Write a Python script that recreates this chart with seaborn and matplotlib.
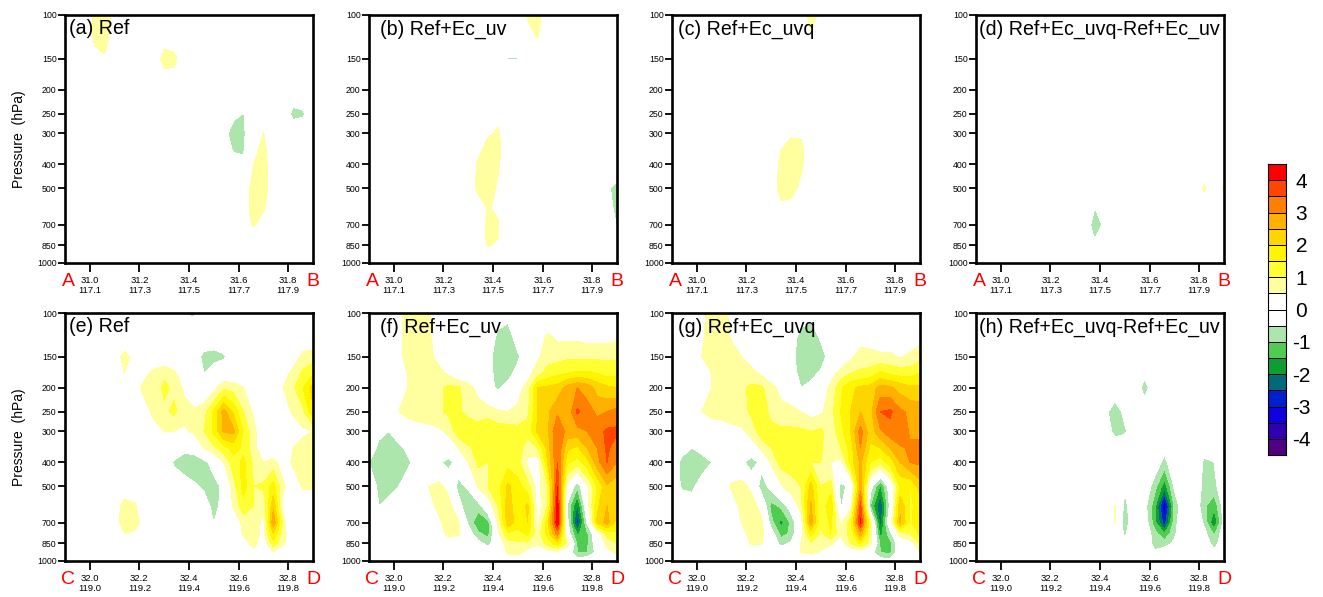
import numpy as np
import seaborn as sns
import matplotlib
matplotlib.use("Agg")
import matplotlib.pyplot as plt
from matplotlib.colors import ListedColormap
from matplotlib.ticker import NullLocator

# cross sections of the increment, rows = pressure levels, columns = points along the section
PRESSURE = [100, 125, 150, 175, 200, 250, 300, 350, 400, 500, 600, 700, 775, 850, 925, 1000]
YTICKS = [100, 150, 200, 250, 300, 400, 500, 700, 850, 1000]

FRAC = [i * 0.04 for i in range(26)]
TICK_OFFSET = [0.1, 0.3, 0.5, 0.7, 0.9]
LABELS_AB = ["31.0\n117.1", "31.2\n117.3", "31.4\n117.5", "31.6\n117.7", "31.8\n117.9"]
LABELS_CD = ["32.0\n119.0", "32.2\n119.2", "32.4\n119.4", "32.6\n119.6", "32.8\n119.8"]

TITLES_TOP = ["(a) Ref", "(b) Ref+Ec_uv", "(c) Ref+Ec_uvq", "(d) Ref+Ec_uvq-Ref+Ec_uv"]
TITLES_BOT = ["(e) Ref", "(f) Ref+Ec_uv", "(g) Ref+Ec_uvq", "(h) Ref+Ec_uvq-Ref+Ec_uv"]

LEVELS = [-4, -3.5, -3, -2.5, -2, -1.5, -1, -0.5, 0, 0.5, 1, 1.5, 2, 2.5, 3, 3.5, 4]
COLORS = ["#500080", "#3000B0", "#1000E0", "#0020D0", "#006A78", "#0A9F30", "#50CC50", "#ADE6AD", "#FFFFFF",
          "#FFFFFF", "#FFFFA0", "#FFFF33", "#FFF500", "#FFD500", "#FFB000", "#FF8000", "#FF4500", "#FF0000"]
CBAR_VALUES = [4.25, 3.75, 3.25, 2.75, 2.25, 1.75, 1.25, 0.75, 0.25, -0.25, -0.75, -1.25, -1.75, -2.25, -2.75, -3.25, -3.75, -4.25]
CBAR_LABELS = ["4", "3", "2", "1", "0", "-1", "-2", "-3", "-4"]

panel_a = [
    [0,0,0,.7,.8, .3,0,0,0,0, 0,0,0,0,0, 0,0,0,0,0, 0,0,0,0,0, 0],
    [0,0,0,.6,.8, 0,0,0,0,0, .2,.1,0,0,0, 0,0,0,0,0, 0,0,0,0,0, 0],
    [0,0,0,.3,.4, 0,0,0,0,0, .8,.7,0,0,0, 0,0,0,0,0, 0,0,0,0,0, 0],
    [0,0,0,0,0, 0,0,0,0,0, .3,.3,0,0,0, 0,0,0,0,0, 0,0,0,0,0, 0],
    [0,0,0,0,0, 0,0,0,0,0, 0,0,0,0,0, 0,0,0,0,0, 0,0,0,0,0, 0],
    [0,0,0,0,0, 0,0,0,0,0, 0,0,0,0,0, 0,0,-.3,-.52,0, 0,0,0,-.7,-.6, 0],
    [0,0,0,0,0, 0,0,0,0,0, 0,0,0,0,0, 0,-.2,-.9,-.6,0, .52,0,0,0,0, 0],
    [0,0,0,0,0, 0,0,0,0,0, 0,0,0,0,0, 0,0,-.6,-.55,.3, .7,0,0,0,0, 0],
    [0,0,0,0,0, 0,0,0,0,0, 0,0,0,0,0, 0,0,0,-.4,.5, .8,0,0,0,0, 0],
    [0,0,0,0,0, 0,0,0,0,0, 0,0,0,0,0, 0,0,0,0,.8, .9,0,0,0,0, 0],
    [0,0,0,0,0, 0,0,0,0,0, 0,0,0,0,0, 0,0,0,0,.9, .6,0,0,0,0, 0],
    [0,0,0,0,0, 0,0,0,0,0, 0,0,0,0,0, 0,0,0,.1,.6, .1,0,0,0,0, 0],
    [0,0,0,0,0, 0,0,0,0,0, 0,0,0,0,0, 0,0,0,0,0, 0,0,0,0,0, 0],
    [0,0,0,0,0, 0,0,0,0,0, 0,0,0,0,0, 0,0,0,0,0, 0,0,0,0,0, 0],
    [0,0,0,0,0, 0,0,0,0,0, 0,0,0,0,0, 0,0,0,0,0, 0,0,0,0,0, 0],
    [0,0,0,0,0, 0,0,0,0,0, 0,0,0,0,0, 0,0,0,0,0, 0,0,0,0,0, 0],
]

panel_b = [
    [0,0,0,0,0, 0,0,0,0,0, 0,0,0,0,0, 0,.6,.8,0,0, 0,0,0,0,0, 0],
    [0,0,0,0,0, 0,0,0,0,0, 0,0,0,0,0, 0,.1,.5,0,0, 0,0,0,0,0, 0],
    [0,0,0,0,0, 0,0,0,0,0, 0,0,0,0,-.52, -.52,0,0,0,0, 0,0,0,0,0, 0],
    [0,0,0,0,0, 0,0,0,0,0, 0,0,0,0,0, 0,0,0,0,0, 0,0,0,0,0, 0],
    [0,0,0,0,0, 0,0,0,0,0, 0,0,0,0,0, 0,0,0,0,0, 0,0,0,0,0, 0],
    [0,0,0,0,0, 0,0,0,0,0, 0,0,0,.3,0, 0,0,0,0,0, 0,0,0,0,0, 0],
    [0,0,0,0,0, 0,0,0,0,0, 0,0,.4,.6,0, 0,0,0,0,0, 0,0,0,0,0, 0],
    [0,0,0,0,0, 0,0,0,0,0, 0,.3,.8,.7,0, 0,0,0,0,0, 0,0,0,0,0, 0],
    [0,0,0,0,0, 0,0,0,0,0, 0,.6,.7,.6,0, 0,0,0,0,0, 0,0,0,0,0, 0],
    [0,0,0,0,0, 0,0,0,0,0, 0,.7,.8,.4,0, 0,0,0,0,0, 0,0,0,0,-.4, -.7],
    [0,0,0,0,0, 0,0,0,0,0, 0,0,.55,.4,0, 0,0,0,0,0, 0,0,0,0,-.2, -.7],
    [0,0,0,0,0, 0,0,0,0,0, 0,0,.7,.55,0, 0,0,0,0,0, 0,0,0,0,0, -.55],
    [0,0,0,0,0, 0,0,0,0,0, 0,0,.7,.55,0, 0,0,0,0,0, 0,0,0,0,0, 0],
    [0,0,0,0,0, 0,0,0,0,0, 0,0,.55,.4,0, 0,0,0,0,0, 0,0,0,0,0, 0],
    [0,0,0,0,0, 0,0,0,0,0, 0,0,0,0,0, 0,0,0,0,0, 0,0,0,0,0, 0],
    [0,0,0,0,0, 0,0,0,0,0, 0,0,0,0,0, 0,0,0,0,0, 0,0,0,0,0, 0],
]

panel_c = [
    [0,0,0,0,0, 0,0,0,0,0, 0,0,0,0,.8, .3,0,0,0,0, 0,0,0,0,0, 0],
    [0,0,0,0,0, 0,0,0,0,0, 0,0,0,0,.4, 0,0,0,0,0, 0,0,0,0,0, 0],
    [0,0,0,0,0, 0,0,0,0,0, 0,0,0,0,0, 0,0,0,0,0, 0,0,0,0,0, 0],
    [0,0,0,0,0, 0,0,0,0,0, 0,0,0,0,0, 0,0,0,0,0, 0,0,0,0,0, 0],
    [0,0,0,0,0, 0,0,0,0,0, 0,0,0,0,0, 0,0,0,0,0, 0,0,0,0,0, 0],
    [0,0,0,0,0, 0,0,0,0,0, 0,0,0,0,0, 0,0,0,0,0, 0,0,0,0,0, 0],
    [0,0,0,0,0, 0,0,0,0,0, 0,0,.4,.4,0, 0,0,0,0,0, 0,0,0,0,0, 0],
    [0,0,0,0,0, 0,0,0,0,0, 0,.5,.8,.7,0, 0,0,0,0,0, 0,0,0,0,0, 0],
    [0,0,0,0,0, 0,0,0,0,0, 0,.7,.8,.65,0, 0,0,0,0,0, 0,0,0,0,0, 0],
    [0,0,0,0,0, 0,0,0,0,0, 0,.8,.8,.3,0, 0,0,0,0,0, 0,0,0,0,0, 0],
    [0,0,0,0,0, 0,0,0,0,0, 0,.3,.2,0,0, 0,0,0,0,0, 0,0,0,0,0, 0],
    [0,0,0,0,0, 0,0,0,0,0, 0,0,0,0,0, 0,0,0,0,0, 0,0,0,0,0, 0],
    [0,0,0,0,0, 0,0,0,0,0, 0,0,0,0,0, 0,0,0,0,0, 0,0,0,0,0, 0],
    [0,0,0,0,0, 0,0,0,0,0, 0,0,0,0,0, 0,0,0,0,0, 0,0,0,0,0, 0],
    [0,0,0,0,0, 0,0,0,0,0, 0,0,0,0,0, 0,0,0,0,0, 0,0,0,0,0, 0],
    [0,0,0,0,0, 0,0,0,0,0, 0,0,0,0,0, 0,0,0,0,0, 0,0,0,0,0, 0],
]

panel_d = [
    [0,0,0,0,0, 0,0,0,0,0, 0,0,0,0,0, 0,0,0,0,0, 0,0,0,0,0, 0],
    [0,0,0,0,0, 0,0,0,0,0, 0,0,0,0,0, 0,0,0,0,0, 0,0,0,0,0, 0],
    [0,0,0,0,0, 0,0,0,0,0, 0,0,0,0,0, 0,0,0,0,0, 0,0,0,0,0, 0],
    [0,0,0,0,0, 0,0,0,0,0, 0,0,0,0,0, 0,0,0,0,0, 0,0,0,0,0, 0],
    [0,0,0,0,0, 0,0,0,0,0, 0,0,0,0,0, 0,0,0,0,0, 0,0,0,0,0, 0],
    [0,0,0,0,0, 0,0,0,0,0, 0,0,0,0,0, 0,0,0,0,0, 0,0,0,0,0, 0],
    [0,0,0,0,0, 0,0,0,0,0, 0,0,0,0,0, 0,0,0,0,0, 0,0,0,0,0, 0],
    [0,0,0,0,0, 0,0,0,0,0, 0,0,0,0,0, 0,0,0,0,0, 0,0,0,0,0, 0],
    [0,0,0,0,0, 0,0,0,0,0, 0,0,0,0,0, 0,0,0,0,0, 0,0,0,0,0, 0],
    [0,0,0,0,0, 0,0,0,0,0, 0,0,0,0,0, 0,0,0,0,0, 0,0,0,.6,.1, .6],
    [0,0,0,0,0, 0,0,0,0,0, 0,0,-.5,0,0, 0,0,0,0,0, 0,0,0,0,0, 0],
    [0,0,0,0,0, 0,0,0,0,0, 0,0,-.9,-.3,0, 0,0,0,0,0, 0,0,0,0,0, 0],
    [0,0,0,0,0, 0,0,0,0,0, 0,0,-.6,0,0, 0,0,0,0,0, 0,0,0,0,0, 0],
    [0,0,0,0,0, 0,0,0,0,0, 0,0,-.3,0,0, 0,0,0,0,0, 0,0,0,0,0, 0],
    [0,0,0,0,0, 0,0,0,0,0, 0,0,0,0,0, 0,0,0,0,0, 0,0,0,0,0, 0],
    [0,0,0,0,0, 0,0,0,0,0, 0,0,0,0,0, 0,0,0,0,0, 0,0,0,0,0, 0],
]

panel_e = [
    [0,0,0,0,0, 0,0,0,0,0, 0,-.2,-.5,-.6,0, 0,0,0,0,0, 0,0,0,0,0, 0],
    [0,0,0,0,0, 0,0,0,0,0, 0,0,-.1,0,0, 0,0,0,0,0, 0,0,0,0,0, 0],
    [0,0,0,0,0, .2,.7,.3,0,0, 0,0,0,-.1,-.7, -.8,-.6,0,0,0, 0,0,0,.1,.7, .8],
    [0,0,0,0,0, 0,.5,.3,.3,.7, .9,.6,.1,0,-.5, 0,0,0,0,0, 0,0,.2,.7,1.1, 1.4],
    [0,0,0,0,0, 0,.4,.2,.7,.7, 1.1,.9,.4,0,0, .3,.9,.8,.5,.1, 0,.1,.5,.9,1.5, 2.2],
    [0,0,0,0,0, 0,0,0,.2,.7, .9,1.1,.7,.6,.8, 1.6,2.7,1.9,1.0,.4, 0,-.5,.2,.6,.9, 1.9],
    [0,0,0,0,0, 0,0,0,0,.2, .5,.5,.4,.6,1.0, 1.6,2.6,2.6,1.4,.7, 0,0,0,.1,.4, .5],
    [0,0,0,0,0, 0,0,0,0,0, 0,0,-.2,-.2,.5, .9,1.3,1.7,1.4,.7, .1,0,0,.5,.7, .7],
    [0,0,0,0,0, 0,0,0,0,0, 0,-.6,-1.0,-.9,-.7, -.2,.5,1.3,1.6,.9, .5,.7,.2,.6,.7, .8],
    [0,0,0,0,0, 0,0,0,0,0, 0,0,0,-.4,-.6, -.8,-.3,.8,1.7,1.0, 1.1,1.7,.6,.1,.6, .6],
    [0,0,0,0,0, .1,.8,.6,0,0, 0,0,0,0,-.2, -.7,-.3,.6,1.3,1.0, .6,2.4,.2,-.52,0, 0],
    [0,0,0,0,0, .1,.9,.8,.2,0, 0,0,0,0,0, -.5,0,0,.7,.9, .3,2.9,.8,-.5,0, 0],
    [0,0,0,0,0, 0,.5,.4,0,0, 0,0,0,0,0, 0,0,0,.6,.8, .3,2.0,.7,0,0, 0],
    [0,0,0,0,0, 0,0,0,0,0, 0,0,0,0,0, 0,0,0,.2,.7, .1,1.3,.6,0,0, 0],
    [0,0,0,0,0, 0,0,0,0,0, 0,0,0,0,0, 0,0,0,0,.3, 0,.4,0,0,0, 0],
    [0,0,0,0,0, 0,0,0,0,0, 0,0,0,0,0, 0,0,0,0,0, 0,0,0,0,0, 0],
]

panel_f = [
    [0,0,0,.3,.9, .9,.55,.2,0,0, 0,0,0,-.3,-.3, 0,0,0,0,0, 0,0,0,0,0, 0],
    [0,0,0,.3,.9, .9,.6,.2,0,0, 0,0,-.2,-.6,-.8, -.2,0,.2,.6,.4, .4,.4,.3,.3,.3, .4],
    [0,0,0,.3,.8, .8,.7,.3,0,0, 0,0,-.3,-.8,-.9, -.6,-.1,.4,.8,.8, .9,.9,.9,.9,.9, .9],
    [0,0,0,0,.6, .8,.8,.7,.4,0, 0,0,-.3,-.7,-.7, -.3,.3,.8,1.2,1.4, 1.5,1.6,1.6,1.5,1.3, 1.4],
    [0,0,0,0,.55, .8,.8,.9,1.1,1.1, .7,.3,-.3,-.6,-.3, .3,.7,2.0,2.1,2.2, 2.7,3.0,2.8,2.3,2.1, 2.0],
    [0,0,0,.5,.7, .8,.8,.9,1.1,1.1, .8,.8,.8,.6,.5, .6,.9,2.0,2.4,2.9, 2.6,3.6,3.2,2.9,3.0, 3.2],
    [0,-.3,-.5,0,.1, .2,.3,.4,.6,1.3, 1.5,1.2,1.4,1.3,1.3, 1.2,1.2,2.1,2.4,3.5, 2.8,2.8,3.0,3.3,3.6, 3.6],
    [0,-.7,-.8,-.7,-.3, 0,0,0,.2,.5, .9,1.2,1.1,1.3,1.3, 1.3,.7,1.0,2.2,3.5, 2.1,1.9,2.5,3.0,3.6, 3.2],
    [-.5,-.9,-.9,-.9,-.6, -.1,0,-.3,-.8,-.1, .5,1.1,1.0,1.2,1.3, 1.2,.4,.1,2.0,3.5, 1.6,1.3,1.8,2.8,3.5, 3.0],
    [-.2,-.6,-.7,-.5,-.1, 0,.5,.7,.3,-.7, -.4,.6,1.0,1.3,2.1, 1.7,1.2,.3,1.0,4.0, .2,-.9,.4,1.5,2.4, 2.1],
    [-.1,-.5,-.3,0,0, 0,.2,.7,.8,-.2, -1.0,-.8,.1,1.0,2.3, 1.6,2.1,.2,1.0,4.3, -.6,-2.1,.2,1.9,2.5, 2.1],
    [0,0,0,0,0, 0,0,.3,.9,.6, -.6,-1.4,-1.2,.6,2.3, 1.8,2.0,.3,1.8,4.4, -.3,-2.8,-.4,2.1,2.7, 1.8],
    [0,0,0,0,0, 0,0,0,.8,.6, -.2,-.9,-1.2,.4,1.4, 1.3,1.6,.7,1.7,3.2, -.1,-1.6,-1.1,.1,1.2, 1.4],
    [0,0,0,0,0, 0,0,0,0,0, 0,-.3,-.7,0,.8, .9,.9,.6,1.2,1.8, .8,-1.1,-1.1,-.1,.7, 1.0],
    [0,0,0,0,0, 0,0,0,0,0, 0,0,0,0,.6, .7,.2,0,.2,.3, 0,-1.0,-1.0,-.3,.3, .6],
    [0,0,0,0,0, 0,0,0,0,0, 0,0,0,0,0, 0,0,0,0,0, 0,-.1,0,0,0, 0],
]

panel_g = [
    [0,0,0,.3,.8, .8,.3,0,0,0, 0,0,0,-.2,-.3, 0,0,0,0,0, 0,0,0,0,0, 0],
    [0,0,0,.4,.8, .8,.45,0,0,0, 0,0,-.2,-.7,-.9, -.4,0,0,0,.3, .2,.2,.2,.2,.2, .3],
    [0,0,0,.5,.8, .8,.7,.5,.2,0, 0,0,-.3,-.8,-.9, -.8,-.2,0,.4,.7, .7,.6,.6,.45,.6, .8],
    [0,0,0,0,.5, .8,.9,.8,.7,.4, 0,0,-.2,-.7,-.7, -.4,.3,.7,1.0,1.1, 1.2,1.6,1.4,1.3,1.3, 1.5],
    [0,0,0,.2,.5, .8,.8,.9,1.1,1.1, .7,.3,0,-.5,-.3, .2,.6,1.4,1.9,2.1, 2.2,2.7,2.6,2.3,2.1, 2.1],
    [0,0,0,.5,.7, .7,.8,.8,1.1,1.2, .9,.7,.7,.5,.3, .4,.8,1.5,2.0,2.5, 2.3,3.5,3.6,3.1,2.9, 2.8],
    [0,0,0,0,.1, .2,.3,.4,.7,1.3, 1.1,1.1,1.1,1.1,1.0, 1.1,.7,1.3,2.0,3.2, 2.2,2.9,3.3,3.5,2.9, 2.9],
    [0,-.2,-.5,-.2,0, 0,0,0,.2,.6, 1.0,1.2,1.2,1.2,1.1, 1.1,.6,1.0,1.7,3.0, 1.9,2.0,2.5,2.9,3.1, 3.1],
    [0,-.7,-.9,-.9,-.5, 0,0,-.3,-.9,-.3, .6,1.2,1.1,1.1,1.0, 1.0,.5,.3,1.7,2.6, 1.5,1.2,1.7,2.5,3.0, 3.1],
    [0,-.6,-.7,-.1,0, 0,.6,.8,.3,-.8, -.3,.4,.9,1.0,2.2, 1.0,1.2,-.7,-.3,2.8, -.2,-1.6,-.1,1.6,1.5, 2.2],
    [0,0,0,0,0, 0,.1,.7,.9,.2, -1.2,-.9,-.2,.8,2.6, 1.0,2.0,-.6,.3,3.7, -1.0,-2.5,-.3,2.4,1.4, 1.7],
    [0,0,0,0,0, 0,0,.5,.9,.7, -.8,-1.7,-.9,.2,2.8, 1.0,1.6,.4,1.3,4.1, .9,-2.3,.2,2.6,1.4, 1.9],
    [0,0,0,0,0, 0,0,.2,.8,.7, -.2,-1.2,-.9,.3,1.7, .9,1.5,.6,1.2,2.8, .9,-1.7,-.7,.8,1.0, 1.6],
    [0,0,0,0,0, 0,0,0,.6,.55, 0,-.7,-.4,.5,.9, .8,.6,.2,1.0,1.6, .7,-1.1,-1.2,0,.2, 1.0],
    [0,0,0,0,0, 0,0,0,0,0, 0,0,0,.5,.6, .4,0,0,0,0, -.2,-1.0,-1.1,0,0, .5],
    [0,0,0,0,0, 0,0,0,0,0, 0,0,0,0,0, 0,0,0,0,0, 0,-.2,-.2,0,0, 0],
]

panel_h = [
    [0,0,0,0,0, 0,0,0,0,0, 0,0,0,0,0, 0,0,0,0,0, 0,0,0,0,0, 0],
    [0,0,0,0,0, 0,0,0,0,0, 0,0,0,0,0, 0,0,0,0,0, 0,0,0,0,0, 0],
    [0,0,0,0,0, 0,0,0,0,0, 0,0,0,0,0, 0,0,0,0,0, 0,0,0,0,0, 0],
    [0,0,0,0,0, 0,0,0,0,0, 0,0,0,0,0, 0,0,-.3,0,0, 0,0,0,0,0, 0],
    [0,0,0,0,0, 0,0,0,0,0, 0,0,0,0,0, 0,0,-.8,0,0, 0,0,0,0,0, 0],
    [0,0,0,0,0, 0,0,0,0,0, 0,0,0,-.3,-.9, -.3,0,0,0,0, 0,0,0,0,0, 0],
    [0,0,0,0,0, 0,0,0,0,0, 0,0,0,-.1,-.7, -.6,-.1,0,0,0, 0,0,0,0,0, 0],
    [0,0,0,0,0, 0,0,0,0,0, 0,0,0,0,-.1, 0,0,0,0,-.3, 0,0,0,-.3,0, 0],
    [0,0,0,0,0, 0,0,0,0,0, 0,0,0,0,0, 0,0,0,-.1,-.7, 0,0,0,-.6,-.5, 0],
    [0,0,0,0,0, 0,0,0,0,0, 0,0,0,0,0, -.4,0,0,-.8,-1.8, -.4,0,0,-.7,-.7, 0],
    [0,0,0,0,0, 0,0,0,0,0, 0,0,0,0,.52, -.7,0,-.3,-1.3,-3.5, -.9,0,0,-.9,-1.4, -.2],
    [0,0,0,0,0, 0,0,0,0,0, 0,0,0,0,.52, -.8,0,-.1,-1.3,-2.8, -.7,0,0,-.6,-2.0, -.3],
    [0,0,0,0,0, 0,0,0,0,0, 0,0,0,0,0, -.6,0,0,-.8,-1.5, -.6,0,0,-.3,-1.1, -.1],
    [0,0,0,0,0, 0,0,0,0,0, 0,0,0,0,0, -.3,0,0,-.7,-.7, -.4,0,0,0,-.8, 0],
    [0,0,0,0,0, 0,0,0,0,0, 0,0,0,0,0, 0,0,0,-.4,-.2, 0,0,0,0,-.3, 0],
    [0,0,0,0,0, 0,0,0,0,0, 0,0,0,0,0, 0,0,0,0,0, 0,0,0,0,0, 0],
]

sns.set_theme(style="ticks")
plt.rcParams["font.family"] = ["Liberation Sans", "DejaVu Sans"]

W, H = 1323, 597
fig = plt.figure(figsize=(W / 100, H / 100), dpi=100)

lefts = [65, 369, 672, 976]
tops = [15, 313]
side = 248
title_pad = [4, 11, 6, 3]


def draw_panel(ax, z, start, xlabels, title, pad, ends, ylab):
    x = [start + f for f in FRAC]
    ax.contourf(x, PRESSURE, np.array(z, dtype=float), levels=LEVELS, colors=COLORS, extend="both")
    ax.set_yscale("log")
    ax.set_ylim(1000, 100)
    ax.set_xlim(start, start + 1.0)
    ax.yaxis.set_minor_locator(NullLocator())
    ax.set_yticks(YTICKS)
    ax.set_yticklabels([str(p) for p in YTICKS])
    ax.set_xticks([start + t for t in TICK_OFFSET])
    ax.set_xticklabels(xlabels, linespacing=1.15)
    ax.tick_params(axis="x", length=6.5, width=1.3, labelsize=6.8, pad=3, colors="black")
    ax.tick_params(axis="y", length=5, width=1.3, labelsize=6.3, pad=1, colors="black")
    for s in ax.spines.values():
        s.set_visible(True)
        s.set_linewidth(1.9)
        s.set_color("black")
    ax.text(pad / side, 1 - 14 / side, title, transform=ax.transAxes, fontsize=14.1,
            color="black", ha="left", va="center")
    ax.text(3 / side, -19 / side, ends[0], transform=ax.transAxes, fontsize=14, color="red",
            ha="center", va="center")
    ax.text(1, -19 / side, ends[1], transform=ax.transAxes, fontsize=14, color="red",
            ha="center", va="center")
    if ylab:
        ax.set_ylabel("Pressure  (hPa)", fontsize=10, color="black", labelpad=8)


top_panels = [panel_a, panel_b, panel_c, panel_d]
bot_panels = [panel_e, panel_f, panel_g, panel_h]

for i in range(4):
    ax = fig.add_axes([lefts[i] / W, 1 - (tops[0] + side) / H, side / W, side / H])
    draw_panel(ax, top_panels[i], 30.9, LABELS_AB, TITLES_TOP[i], title_pad[i], "AB", i == 0)
    ax = fig.add_axes([lefts[i] / W, 1 - (tops[1] + side) / H, side / W, side / H])
    draw_panel(ax, bot_panels[i], 31.9, LABELS_CD, TITLES_BOT[i], title_pad[i], "CD", i == 0)

# label bar, one box per contour interval
cax = fig.add_axes([1268 / W, 1 - 455 / H, 18 / W, 291 / H])
cbar_cmap = ListedColormap(COLORS)
sns.heatmap(np.array(CBAR_VALUES).reshape(-1, 1), ax=cax, cmap=cbar_cmap, vmin=-4.5, vmax=4.5, cbar=False,
            linewidths=0.7, linecolor="black", xticklabels=False)
cax.yaxis.tick_right()
cax.set_yticks(range(1, 18, 2))
cax.set_yticklabels(CBAR_LABELS, rotation=0, fontsize=15, color="black", ha="center")
cax.tick_params(axis="y", length=0, pad=11)
for s in cax.spines.values():
    s.set_visible(True)
    s.set_linewidth(0.8)
    s.set_color("black")

fig.savefig("out.png", dpi=100, facecolor="white")
